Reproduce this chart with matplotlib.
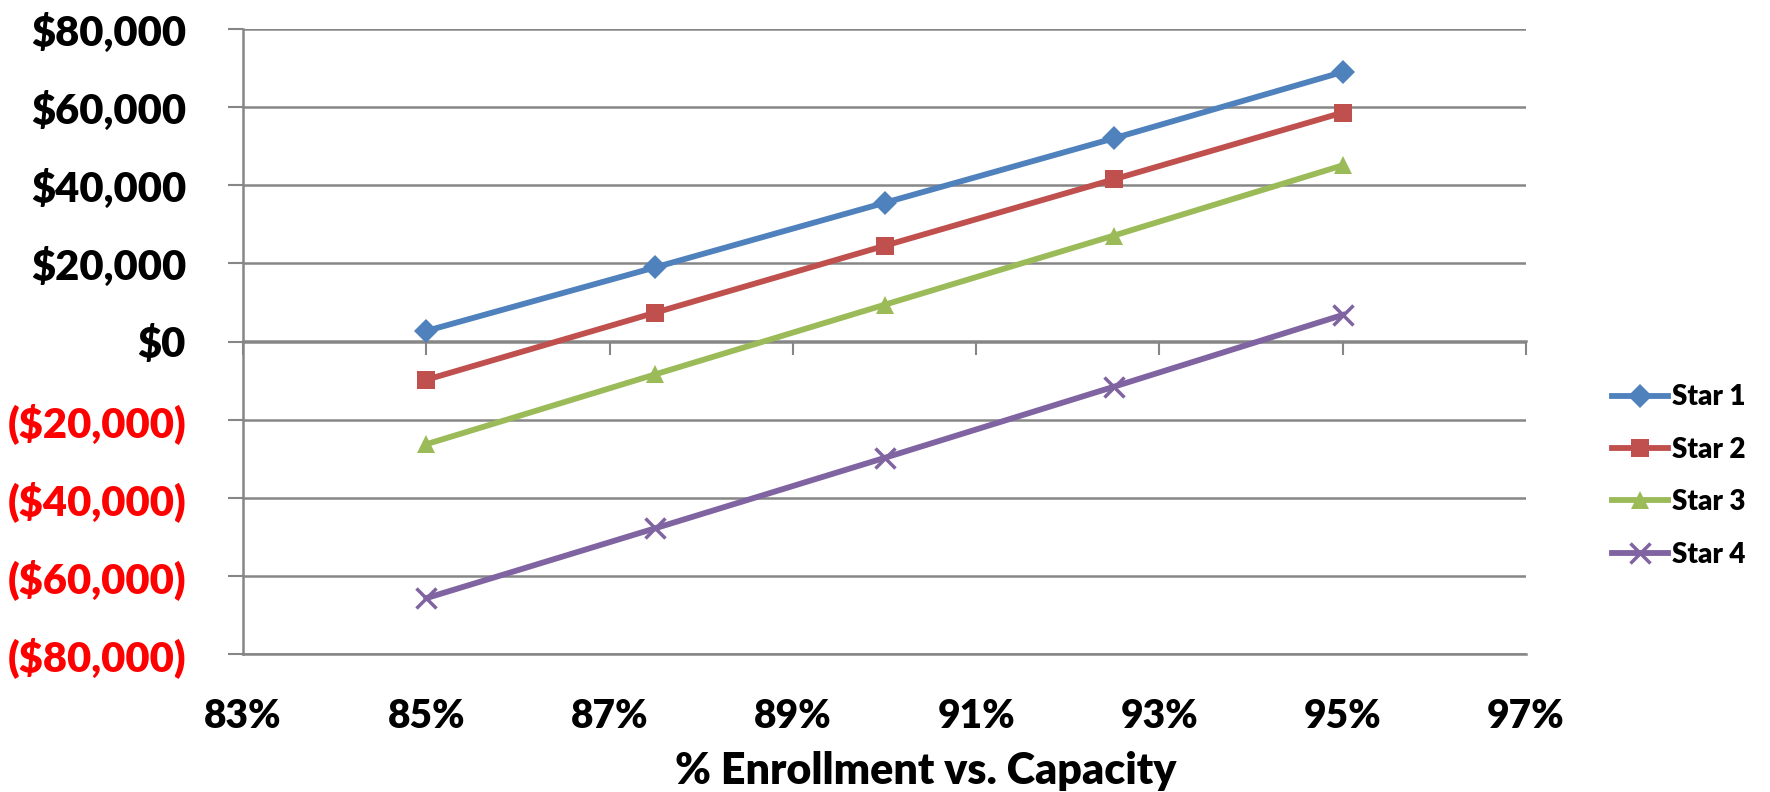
import matplotlib
matplotlib.use("Agg")
import matplotlib.pyplot as plt

plt.rcParams['font.family'] = ['Lato', 'DejaVu Sans']
plt.rcParams['font.weight'] = 'heavy'
plt.rcParams['axes.labelweight'] = 'heavy'

enrollment = [85, 87.5, 90, 92.5, 95]
star1 = [2700, 19000, 35500, 52000, 69000]
star2 = [-9800, 7400, 24500, 41500, 58600]
star3 = [-26300, -8400, 9400, 27100, 45100]
star4 = [-65700, -47800, -29800, -11600, 6800]
series_names = ["Star 1", "Star 2", "Star 3", "Star 4"]

xticks = [83, 85, 87, 89, 91, 93, 95, 97]
yticks = [-80000, -60000, -40000, -20000, 0, 20000, 40000, 60000, 80000]

colors = ['#4F81BD', '#C0504D', '#9BBB59', '#8064A2']
markers = ['D', 's', '^', 'x']
sizes = [12, 12.5, 13.5, 14]
grid_col = '#868686'


def money(v):
    if v < 0:
        return "(${:,.0f})".format(-v)
    return "${:,.0f}".format(v)


fig = plt.figure(figsize=(17.7, 7.92), dpi=100)
ax = fig.add_axes([243 / 1770, 1 - 654 / 792, (1526 - 243) / 1770, (654 - 29) / 792])

for vals, name, c, m, ms in zip([star1, star2, star3, star4], series_names, colors, markers, sizes):
    ax.plot(enrollment, vals, color=c, lw=4.2, marker=m, ms=ms,
            mew=2.5 if m == 'x' else 0, mec=c, label=name, zorder=3)

ax.set_xlim(83, 97)
ax.set_ylim(-80000, 80000)

# horizontal grid, drawn under the lines
ax.set_yticks(yticks, labels=[money(v) for v in yticks])
for lbl, v in zip(ax.get_yticklabels(), yticks):
    lbl.set_color('#FF0000' if v < 0 else 'black')
ax.yaxis.grid(True, color=grid_col, lw=1.8)
ax.set_axisbelow(True)
ax.tick_params(axis='y', direction='out', length=11, width=1.5, color=grid_col,
               pad=30, labelsize=30)

ax.set_xticks(xticks, labels=["{}%".format(v) for v in xticks])
ax.tick_params(axis='x', length=0, pad=32, labelsize=28)
ax.set_xlabel("% Enrollment vs. Capacity", fontsize=31, labelpad=11)
ax.xaxis.label.set_x(0.532)

for s in ['top', 'right']:
    ax.spines[s].set_visible(False)
ax.spines['left'].set_color(grid_col)
ax.spines['left'].set_linewidth(1.8)
ax.spines['bottom'].set_color(grid_col)
ax.spines['bottom'].set_linewidth(1.8)

# category axis crossing at $0 with its own tick marks
zero_ax = ax.secondary_xaxis(0.5)
zero_ax.set_xticks(xticks)
zero_ax.xaxis.set_ticks_position('bottom')
zero_ax.tick_params(direction='out', length=10, width=1.5, color=grid_col,
                    labelbottom=False, labeltop=False)
for s in zero_ax.spines.values():
    s.set_color(grid_col)
    s.set_linewidth(1.8)

fig.legend(loc='center left', bbox_to_anchor=(1612 / 1770, 1 - 476 / 792), frameon=False,
           fontsize=20, handlelength=2.0, handletextpad=0.15, labelspacing=0.95,
           borderpad=0, borderaxespad=0)

fig.savefig("out.png", dpi=100)
